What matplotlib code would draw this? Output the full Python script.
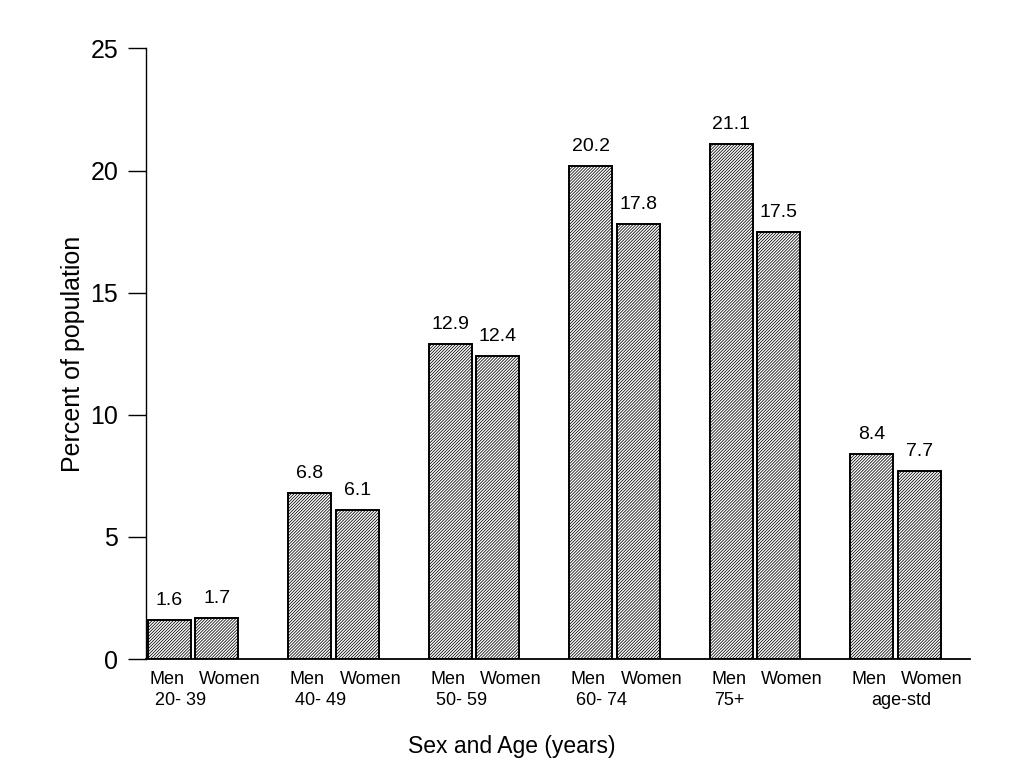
import matplotlib.pyplot as plt
import numpy as np

plt.rcParams['font.family'] = ['Liberation Sans', 'DejaVu Sans']
plt.rcParams['hatch.linewidth'] = 0.55

ages = ['20- 39', '40- 49', '50- 59', '60- 74', '75+', 'age-std']
age_shift = [-0.09, -0.09, -0.09, -0.09, -0.18, 0.04]
men = [1.6, 6.8, 12.9, 20.2, 21.1, 8.4]
women = [1.7, 6.1, 12.4, 17.8, 17.5, 7.7]

fig = plt.figure(figsize=(10.24, 7.8), dpi=100)
ax = fig.add_axes([0.1426, 0.155, 0.8044, 0.783])

x = np.arange(len(ages))
w = 0.305
bm = ax.bar(x - 0.168, men, w, color='white', edgecolor='black', hatch='/' * 11, linewidth=1.4)
bw = ax.bar(x + 0.170, women, w, color='white', edgecolor='black', hatch='/' * 11, linewidth=1.4)

for bars, vals in [(bm, men), (bw, women)]:
    for b, v in zip(bars, vals):
        ax.text(b.get_x() + b.get_width() / 2, v + 0.45, f'{v:.1f}',
                ha='center', va='bottom', fontsize=14)

ax.set_xlim(-0.334, 5.53)
ax.set_ylim(0, 25)
ax.set_yticks([0, 5, 10, 15, 20, 25])
ax.tick_params(axis='y', direction='out', length=13, width=1, labelsize=18, pad=7)
ax.set_xticks([])
for s in ['top', 'right']:
    ax.spines[s].set_visible(False)
ax.spines['bottom'].set_linewidth(1.3)
ax.spines['left'].set_linewidth(1.0)

for i, a in enumerate(ages):
    ax.text(x[i] - 0.185, -0.5, 'Men', ha='center', va='top', fontsize=13)
    ax.text(x[i] + 0.263, -0.5, 'Women', ha='center', va='top', fontsize=13)
    ax.text(x[i] + age_shift[i], -1.35, a, ha='center', va='top', fontsize=13)

ax.set_ylabel('Percent of population', fontsize=18, labelpad=4)
fig.text(0.5, 0.035, 'Sex and Age (years)', ha='center', fontsize=16.5)

fig.savefig('out.png', dpi=100)
